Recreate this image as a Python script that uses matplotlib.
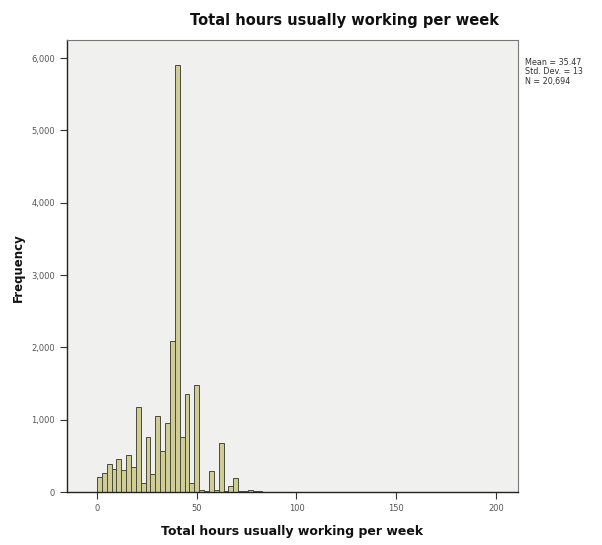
import matplotlib
matplotlib.use("Agg")
import matplotlib.pyplot as plt
import numpy as np

# Histogram data (bin width in hours, counts per bin starting at 0)
bin_width = 2.44
counts = [206, 261, 390, 321, 459, 298, 505, 344, 1179, 124,
          766, 252, 1055, 564, 950, 2087, 5900, 757, 1362, 124,
          1482, 30, 20, 290, 30, 674, 20, 80, 200, 10,
          8, 25, 20, 12, 5, 4, 3, 2, 2, 3,
          1, 1, 2, 1]
x_ticks = [0, 50, 100, 150, 200]
y_ticks = [0, 1000, 2000, 3000, 4000, 5000, 6000]
title = "Total hours usually working per week"
xlabel = "Total hours usually working per week"
ylabel = "Frequency"
stats_text = "Mean = 35.47\nStd. Dev. = 13\nN = 20,694"

fig = plt.figure(figsize=(6.02, 5.45), dpi=100)
fig.patch.set_facecolor("white")
ax = fig.add_axes([67/602, 1 - 492/545, 451/602, 452/545])
ax.set_facecolor("#f0f0ee")

lefts = np.arange(len(counts)) * bin_width
ax.bar(lefts, counts, width=bin_width, align="edge",
       color="#cfcc96", edgecolor="#4a4a3a", linewidth=0.7, zorder=2)

ax.set_xlim(-15, 211)
ax.set_ylim(0, 6250)
ax.set_xticks(x_ticks)
ax.set_xticklabels([str(v) for v in x_ticks])
ax.set_yticks(y_ticks)
ax.set_yticklabels([f"{v:,}" for v in y_ticks])
ax.tick_params(axis="both", direction="out", length=5, width=0.8,
               labelsize=6, colors="#333333", labelcolor="#555555")

for side in ["left", "bottom"]:
    ax.spines[side].set_color("#222222")
    ax.spines[side].set_linewidth(1.0)
for side in ["top", "right"]:
    ax.spines[side].set_color("#777777")
    ax.spines[side].set_linewidth(0.8)

fig.text(344/602, 1 - 20/545, title, ha="center", va="center",
         fontsize=10.5, fontweight="bold", color="#111111")
fig.text(292/602, 1 - 532/545, xlabel, ha="center", va="center",
         fontsize=9, fontweight="bold", color="#111111")
fig.text(18/602, 1 - 268/545, ylabel, ha="center", va="center",
         rotation=90, fontsize=8.5, fontweight="bold", color="#111111")
fig.text(525/602, 1 - 58/545, stats_text, ha="left", va="top",
         fontsize=5.8, color="#333333", linespacing=1.05)

fig.savefig("out.png", dpi=100)
